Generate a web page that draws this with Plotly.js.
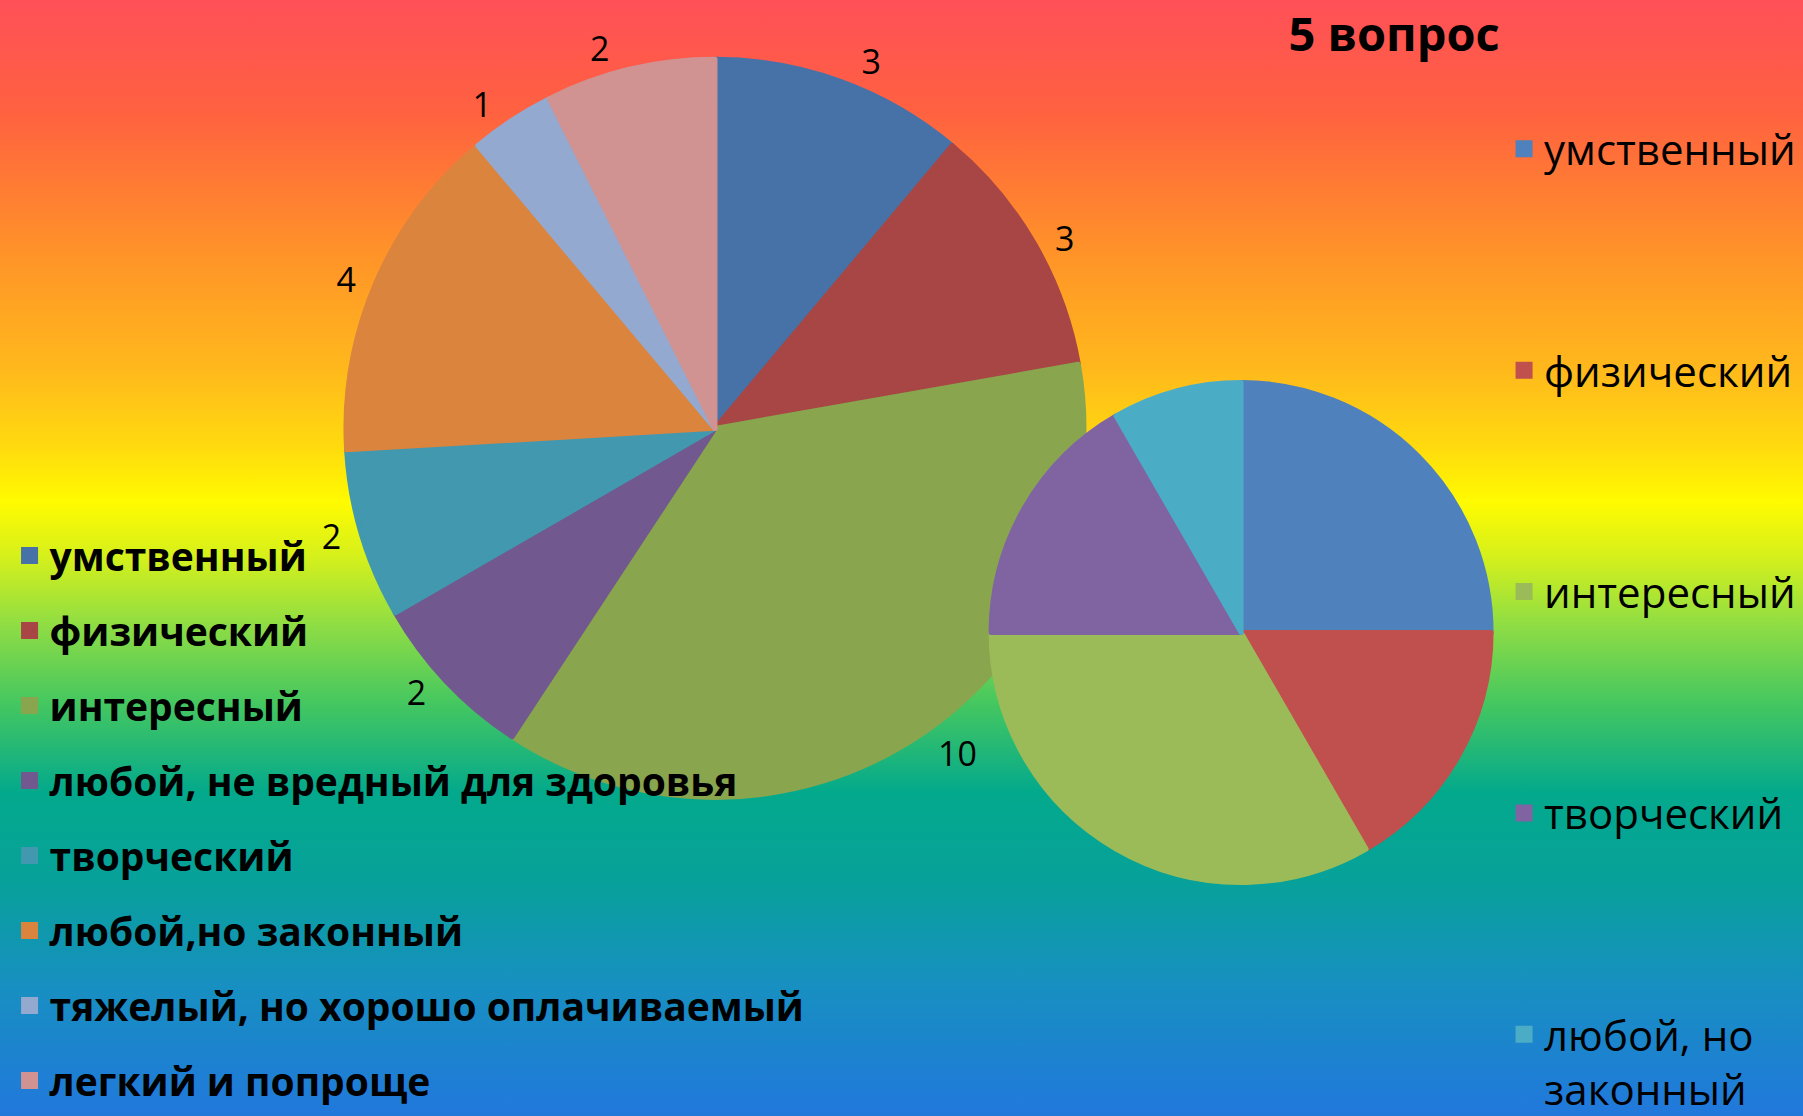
<!DOCTYPE html>
<html>
<head>
<meta charset="utf-8">
<script src="https://cdn.plot.ly/plotly-3.0.1.min.js"></script>
<style>
  html, body { margin: 0; padding: 0; }
  #chart {
    width: 1803px; height: 1116px;
    background: linear-gradient(to bottom,
      #FF5058 0%, #FF6140 10%, #FF9428 23%, #FFB81C 33%, #FFDA0E 40%,
      #FFFB00 45%, #D4F01C 50%, #8FDD44 56%, #45C760 63%, #03A98C 71%,
      #07A19A 79%, #1790C0 88%, #2178DC 100%);
  }
</style>
</head>
<body>
<div id="chart"></div>
<script>
// ---- data ----
var titleText = '5 вопрос';

var bigLabels = ['умственный', 'физический', 'интересный', 'любой, не вредный для здоровья',
                 'творческий', 'любой,но законный', 'тяжелый, но хорошо оплачиваемый', 'легкий и попроще'];
var bigValues = [3, 3, 10, 2, 2, 4, 1, 2];
var bigColors = ['#4672A8', '#A74644', '#89A54E', '#71588F', '#4198AF', '#DB843D', '#93A9CF', '#D19392'];

var smallLabels = ['умственный', 'физический', 'интересный', 'творческий', 'любой, но<br>законный'];
var smallValues = [3, 2, 4, 2, 1];
var smallColors = ['#4F81BD', '#C0504D', '#9BBB59', '#8064A2', '#4BACC6'];

// legend padding lines for the right legend (spacing between entries)
var pad = '<br>\u00a0<br>\u00a0<br>\u00a0';
var smallLegendLabels = smallLabels.map(function (l) { return l.indexOf('<br>') >= 0 ? l : l + pad; });

var FONT = 'Open Sans, Noto Sans, DejaVu Sans, sans-serif';

var bigPie = {
  type: 'pie',
  labels: bigLabels,
  values: bigValues,
  sort: false,
  direction: 'clockwise',
  rotation: 0,
  marker: { colors: bigColors, line: { color: bigColors, width: 5 } },
  textinfo: 'value',
  texttemplate: '\u00a0%{value}\u00a0',
  textposition: 'outside',
  outsidetextfont: { family: FONT, size: 34, color: '#000000' },
  domain: { x: [0.1913, 0.6018], y: [0.2855, 0.9468] },
  legend: 'legend',
  hoverinfo: 'label+value'
};

var smallPie = {
  type: 'pie',
  labels: smallLegendLabels,
  values: smallValues,
  sort: false,
  direction: 'clockwise',
  rotation: 0,
  marker: { colors: smallColors, line: { color: smallColors, width: 5 } },
  textinfo: 'none',
  domain: { x: [0.5497, 0.8270], y: [0.2092, 0.6573] },
  legend: 'legend2',
  hoverinfo: 'label+value'
};

// invisible helper so that each legend entry forms its own group (gap between entries)
var spacer = {
  type: 'pie',
  labels: ['\u00a0'],
  values: [1],
  marker: { colors: ['rgba(0,0,0,0)'], line: { width: 0 } },
  textinfo: 'none',
  hoverinfo: 'skip',
  domain: { x: [0, 0.0005], y: [0, 0.0005] },
  legend: 'legend',
  legendgroup: 'spacer'
};

var layout = {
  width: 1803,
  height: 1116,
  margin: { l: 0, r: 0, t: 0, b: 0, autoexpand: false },
  paper_bgcolor: 'rgba(0,0,0,0)',
  plot_bgcolor: 'rgba(0,0,0,0)',
  font: { family: FONT, color: '#000000' },
  title: {
    text: titleText,
    font: { family: FONT, size: 47, weight: 'bold', color: '#000000' },
    x: 0.7732, xref: 'paper', xanchor: 'center',
    y: 0.969, yref: 'container', yanchor: 'middle'
  },
  showlegend: true,
  legend: {
    x: 0.0053, y: 0.5308, xanchor: 'left', yanchor: 'top',
    font: { family: FONT, size: 39, weight: 'bold', color: '#000000' },
    bgcolor: 'rgba(0,0,0,0)',
    traceorder: 'grouped',
    tracegroupgap: 21.3
  },
  legend2: {
    x: 0.8342, y: 0.8970, xanchor: 'left', yanchor: 'top',
    font: { family: FONT, size: 42, color: '#000000' },
    bgcolor: 'rgba(0,0,0,0)',
    valign: 'top'
  }
};

Plotly.newPlot('chart', [bigPie, smallPie, spacer], layout, { displayModeBar: false, staticPlot: true });
</script>
</body>
</html>
